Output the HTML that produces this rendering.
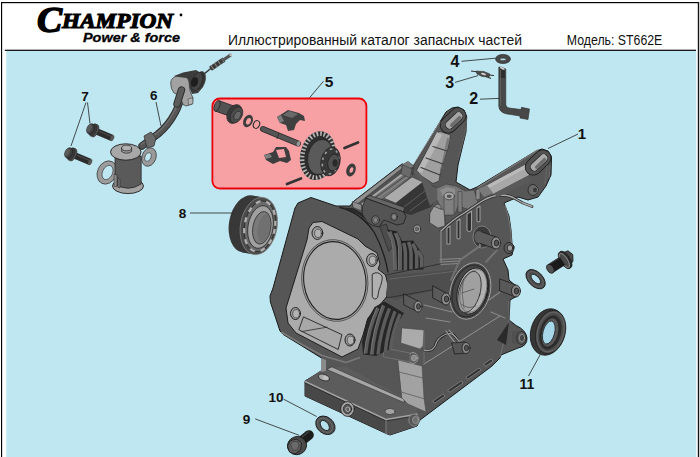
<!DOCTYPE html>
<html>
<head>
<meta charset="utf-8">
<style>
html,body{margin:0;padding:0;background:#fff;}
body{width:700px;height:457px;overflow:hidden;position:relative;font-family:"Liberation Sans",sans-serif;}
svg{position:absolute;left:0;top:0;display:block;}
text{font-family:"Liberation Sans",sans-serif;}
.num{font-weight:bold;fill:#111;}
.ld{stroke:#222;stroke-width:0.8;fill:none;}
</style>
</head>
<body>
<svg width="700" height="457" viewBox="0 0 700 457">
<!-- frame -->
<rect x="0" y="0" width="700" height="457" fill="#fff"/>
<rect x="6.3" y="51" width="690" height="407" fill="#bfe7f1"/>
<rect x="1" y="2" width="698" height="1.2" fill="#000"/>
<rect x="1" y="2" width="1.15" height="456" fill="#000"/>
<rect x="697.8" y="2" width="1.4" height="456" fill="#111"/>
<rect x="4.8" y="49.7" width="691.2" height="1.2" fill="#000"/>

<!-- header text -->
<text x="228" y="45.3" font-size="13.8" fill="#111" textLength="294" lengthAdjust="spacingAndGlyphs">Иллюстрированный каталог запасных частей</text>
<text x="566.8" y="45.3" font-size="13.8" fill="#111" textLength="95.5" lengthAdjust="spacingAndGlyphs">Модель: ST662E</text>

<!-- logo -->
<g id="logo">
<text x="37" y="31.5" style="font-family:'Liberation Serif',serif;font-style:italic;font-weight:bold;font-size:36px" fill="#000" stroke="#000" stroke-width="1.5" textLength="25" lengthAdjust="spacingAndGlyphs">C</text>
<text x="62" y="28" style="font-family:'Liberation Serif',serif;font-style:italic;font-weight:bold;font-size:22px" fill="#000" stroke="#000" stroke-width="1.2" textLength="111" lengthAdjust="spacingAndGlyphs">HAMPION</text>
<circle cx="181" cy="15" r="1.4" fill="#000"/>
<text x="83" y="42.3" style="font-family:'Liberation Sans',sans-serif;font-style:italic;font-weight:bold;font-size:13.6px" fill="#000" stroke="#000" stroke-width="0.3" textLength="97" lengthAdjust="spacingAndGlyphs">Power &amp; force</text>
</g>

<!-- PARTS -->
<!-- red box -->
<rect x="212.4" y="98.5" width="154" height="90" rx="7.5" ry="7.5" fill="#f7a1a5" stroke="#ee0008" stroke-width="1.8"/>

<!-- ENGINE -->
<g id="engine" stroke-linejoin="round">
<path id="sil" d="M298,203 L311,197.5 L336,206 L350,206 L354,201 L402,164 L412,168 L440.5,121 L446,112 L452,108 L458,107 L464,110 L466.5,116 L466,132 L458,165 L456,182 L470,190 L477,187 L536,151 L542,149 L548,151 L551.5,156.5 L551,175 L546,186 L538,197 L528,200 L518,197 L504,203 L509,216 L511,230 L512,244 L514,246 L512,255 L503,259 L508,270 L509,280 L517,287 L519,295 L510,300 L509,320 L516,325.5 Q526,330 527,338 Q527.5,346 518,348 L501,355 L500,358 L492,366 L420,420 L417,426 L390,435 L383,432 L305,396 L305,381 L323,370 L321.5,358 L302,346 L283.4,334.6 L280,331 L270.4,302 L270,296 L273,288 L295,208 Z" fill="#565656" stroke="#1a1a1a" stroke-width="1"/>
<path d="M281.500,332 L284.500,334 L302.500,344.800 L322,355.500 L346,362.500 L360,357.500" stroke="#7a7a7a" stroke-width="1.600" fill="none"/>
<!-- gasket face -->
<path d="M313,222.5 L322,221.5 L358,239 L365,246 L377,253 L380,264 L378,269 L385.5,275 L388,285 L386.5,297 L378,307 L368,318 L363,335 L358,349 L342,357 L296,333 L288,323 L286,308 L307,240 L309,228 Z" fill="#ababab" stroke="#1e1e1e" stroke-width="1"/>
<ellipse cx="334.8" cy="280.5" rx="33" ry="41" fill="#a4a4a4" stroke="#3a3a3a" stroke-width="0.7" transform="rotate(-8 334.8 280.5)"/><ellipse cx="334.8" cy="280.5" rx="31" ry="39" fill="#ababab" stroke="#222" stroke-width="1.1" transform="rotate(-8 334.8 280.5)"/>
</g>

<g id="engdet" stroke-linejoin="round" stroke-linecap="round">
<!-- left arm light channel -->
<path d="M437,133 L440,131.500 L450.500,135 L447.500,150 L441.500,166 L439,181 L433,183.500 L420,175 L417,170 Z" fill="#a0a0a0" stroke="#2a2a2a" stroke-width="0.600"/>
<path d="M437,132 L442,135 L422,173 L417,171 Z" fill="#b8b8b8"/>
<path d="M447,138 L450,139 L441,170 L438.500,179 Z" fill="#7a7a7a"/>
<path d="M433,146.500 L447,151 M426,158 L443,164 M421,167.500 L440,175" stroke="#3c3c3c" stroke-width="1.200" fill="none"/>
<!-- left arm slot -->
<path d="M448.300,125 L457.900,115.800" stroke="#1e1e1e" stroke-width="17" stroke-linecap="round"/>
<path d="M448.300,125 L457.900,115.800" stroke="#525252" stroke-width="15.400" stroke-linecap="round"/>
<path d="M449.600,124.850 L458.600,116.150" stroke="#1e1e1e" stroke-width="9" stroke-linecap="round"/>
<path d="M449.600,124.850 L458.600,116.150" stroke="#a6a6a6" stroke-width="7.600" stroke-linecap="round"/>
<path d="M451.800,125.200 L459.600,117.600" stroke="#6c6c6c" stroke-width="3.400" stroke-linecap="round"/>
<!-- right arm light channel -->
<path d="M486,186 L525,165 L529,175 L493,194 Z" fill="#a8a8a8"/>
<path d="M478,187.5 L538,150" stroke="#7a7a7a" stroke-width="1.2" fill="none"/>
<path d="M486,186 L525,165 L526,168 L488,188.5 Z" fill="#bababa"/>
<!-- right arm slot -->
<path d="M533.300,167.100 L542.900,157.900" stroke="#1e1e1e" stroke-width="17" stroke-linecap="round"/>
<path d="M533.300,167.100 L542.900,157.900" stroke="#525252" stroke-width="15.400" stroke-linecap="round"/>
<path d="M534.500,166.850 L543.500,158.150" stroke="#1e1e1e" stroke-width="9" stroke-linecap="round"/>
<path d="M534.500,166.850 L543.500,158.150" stroke="#ababab" stroke-width="7.600" stroke-linecap="round"/>
<path d="M536.700,167.200 L544.500,159.600" stroke="#6c6c6c" stroke-width="3.400" stroke-linecap="round"/>
<!-- right arm boss -->
<ellipse cx="533" cy="190" rx="5" ry="5.5" fill="#6a6a6a" stroke="#222" stroke-width="0.8"/>
<ellipse cx="535" cy="190" rx="2.6" ry="3" fill="#3a3a3a" stroke="#999" stroke-width="0.5"/>
<!-- top box -->
<path d="M353,202 L402.500,164 L405,166 L356,205 Z" fill="#8e8e8e" stroke="#2a2a2a" stroke-width="0.500"/>
<path d="M356,205 L405,166 L407,169 L359,207.500 Z" fill="#505050"/>
<path d="M359,207.500 L407,169 L413,174 L384,198 L366,206 Z" fill="#727272"/>
<path d="M362.500,204 L407.500,170.500" stroke="#a8a8a8" stroke-width="1.800" fill="none"/>
<path d="M366,204.500 L410,172.500" stroke="#3c3c3c" stroke-width="0.700" fill="none"/>
<path d="M371,203 L412,174" stroke="#8a8a8a" stroke-width="1" fill="none"/>
<path d="M384,198 L412,177 L423,182 L396,203 Z" fill="#ababab" stroke="#3a3a3a" stroke-width="0.600"/>
<path d="M396,203 L423,182 L436,187 L438,196 L431,207 L411,215 L400,212 Z" fill="#363636"/>
<path d="M404,207 L430,187 M410,211 L434,193" stroke="#6f6f6f" stroke-width="0.700" fill="none"/>
<path d="M401,165.500 L408,161.500 L414,166 L413,175 L406,172 Z" fill="#4a4a4a" stroke="#2a2a2a" stroke-width="0.500"/>
<path d="M401,165.500 L408,161.500 L414,166 L407,169.500 Z" fill="#767676"/>
<!-- rocker -->
<path d="M362.500,206.400 L365.800,198.200 L403.500,211.500 L406,216.500 L403.500,223.500 L397,225 L384,220 L379,227 L372.400,225.500 L362.500,219.500 Z" fill="#545454" stroke="#1e1e1e" stroke-width="0.800"/>
<path d="M365.800,197.700 L370,195.500 L404.700,207.400 L403.500,211.500 Z" fill="#666" stroke="#1e1e1e" stroke-width="0.600"/>
<ellipse cx="375.600" cy="220" rx="3.800" ry="4.200" fill="#707070" stroke="#1e1e1e" stroke-width="0.700"/>
<ellipse cx="375.600" cy="220" rx="2" ry="2.300" fill="#8a8a8a" stroke="#333" stroke-width="0.400"/>
<ellipse cx="394" cy="216.800" rx="3.200" ry="3.700" fill="#6a6a6a" stroke="#1e1e1e" stroke-width="0.700"/>
<ellipse cx="394" cy="216.800" rx="1.600" ry="1.900" fill="#8a8a8a"/>
<path d="M352.700,201.500 L361.400,204.800 L361.400,210.800 L353.200,207.500 Z" fill="#8c8c8c" stroke="#2a2a2a" stroke-width="0.500"/>
<!-- post -->
<path d="M444,196 L444,214 L454,214 L454,196 Z" fill="#888"/>
<ellipse cx="449" cy="196" rx="5" ry="3.6" fill="#a4a4a4" stroke="#333" stroke-width="0.6"/>
<ellipse cx="449" cy="196" rx="2.4" ry="1.7" fill="#555"/>
<!-- small bracket -->
<path d="M431,210 L436,207 L445,212 L445,224 L438,226 L431,221 Z" fill="#8e8e8e" stroke="#333" stroke-width="0.5"/>
</g>

<g id="engdet3" stroke-linejoin="round" stroke-linecap="round">
<!-- curved wall behind post -->
<path d="M437,188 L446,184 L456,186 L465,191 L474,190 L478,202 L470,210 L458,206 L455,214 L443,212 L437,200 Z" fill="#777" stroke="#3a3a3a" stroke-width="0.6"/>
<path d="M440,190 L447,187 L455,189 L455,196 L444,198 Z" fill="#8e8e8e"/>
<!-- re-draw post over wall -->
<path d="M444,196 L444,215 L454,215 L454,196 Z" fill="#808080" stroke="#333" stroke-width="0.5"/>
<ellipse cx="449.200" cy="196" rx="5.200" ry="3.800" fill="#a8a8a8" stroke="#333" stroke-width="0.7"/>
<ellipse cx="449.200" cy="196.200" rx="2.600" ry="1.800" fill="#555"/>
<!-- small posts -->
<path d="M458,192 L458,212 L462,212 L462,192 Z" fill="#7c7c7c" stroke="#333" stroke-width="0.500"/>
<path d="M476,190 L476,200 L480,199 L480,189 Z" fill="#8a8a8a" stroke="#333" stroke-width="0.500"/>
<!-- slot frames -->
<g fill="#2e2e2e" stroke="#9c9c9c" stroke-width="1.100">
<path d="M457,221 L457,238 Q458.500,240 460,238 L460,219 Z"/>
<path d="M467,214 L467,230 Q469,233 471.500,230 L471.500,211 Z"/>
<path d="M477,208 L477,221 Q478.500,223 480,221 L480,206 Z"/>
<path d="M447,228 L447,244 L450,244 L450,226 Z"/>
</g>
<!-- bracket -->
<path d="M430,213 L434,206 L444,210 L445,226 L438,228 L430,223 Z" fill="#9c9c9c" stroke="#333" stroke-width="0.600"/>
<path d="M434,206 L438,204 L441,206 L441,209 Z" fill="#8a8a8a" stroke="#333" stroke-width="0.500"/>
<!-- wire -->
<path d="M441,231 Q452,220 465,212.500 Q476,205 483,200.500 Q492,195.500 500,195 Q508,195 513,197.500 L523,203 L532,206.500" stroke="#2e2e2e" stroke-width="2.800" fill="none"/>
<path d="M441,231 Q452,220 465,212.500 Q476,205 483,200.500 Q492,195.500 500,195 Q508,195 513,197.500 L523,203 L532,206.500" stroke="#acacac" stroke-width="1.400" fill="none"/>
<path d="M441,231 L441,262" stroke="#888" stroke-width="1.200" fill="none"/>
<!-- left arm rim light lines -->
<path d="M414,164 L440,122" stroke="#8e8e8e" stroke-width="1" fill="none"/>
<path d="M467,117 L465,134 L458,160" stroke="#6a6a6a" stroke-width="0.800" fill="none"/>
<!-- right arm lower dark band highlight -->
<path d="M493,194 L528,176.500 L531,181 L498,197 Z" fill="#5a5a5a"/>
<path d="M478,189 L487,185 L493,193 L484,197 Z" fill="#7a7a7a"/>

<!-- right arm side ribs -->
<path d="M547,166 L545,184 M550,165 L549,178" stroke="#707070" stroke-width="0.700" fill="none"/>
<!-- block between arms top surface -->
<path d="M412,170 L418,172 L432,186 L437,188 L437,200 L430,206 L422,182 Z" fill="#5c5c5c"/>
<path d="M403,165 L412,169 L410,178 L401,174 Z" fill="#6a6a6a" stroke="#333" stroke-width="0.500"/>
<!-- big boss near right -->
<ellipse cx="482" cy="237" rx="9" ry="11" fill="#3a3a3a" stroke="#8a8a8a" stroke-width="0.800"/>
</g>

<g id="engdet2" stroke-linejoin="round" stroke-linecap="round">
<!-- base plate top face -->
<path d="M305,381 L323,369 L345,366 L404,398 L418,407 L417,414 L386,419 Z" fill="#5c5c5c"/>
<path d="M332,367 L404,399 L404,402.500 L327,369.500 Z" fill="#a6a6a6" stroke="#2a2a2a" stroke-width="0.500"/>
<path d="M305,382 L386,420 L386,434 L383,432 L305,396 Z" fill="#484848"/>
<path d="M386,420 L417,414.500 L417,426 L390,435 L386,434 Z" fill="#525252"/>
<path d="M305,381.500 L386,419.500 L417,414.300" stroke="#a2a2a2" stroke-width="1.500" fill="none"/>
<path d="M305,383 L386,421 L417,415.800" stroke="#1e1e1e" stroke-width="0.600" fill="none"/>
<path d="M386,420 L386,434" stroke="#8a8a8a" stroke-width="0.800" fill="none"/>
<ellipse cx="324" cy="377.500" rx="5.800" ry="3.200" fill="#a8a8a8" stroke="#222" stroke-width="0.700" transform="rotate(18 324 377.500)"/>
<ellipse cx="325.500" cy="378" rx="3" ry="1.800" fill="#c0c0c0" transform="rotate(18 325.500 378)"/>
<ellipse cx="390" cy="411.500" rx="5" ry="3" fill="#a2a2a2" stroke="#333" stroke-width="0.600"/>
<!-- front boss on base -->
<ellipse cx="347.5" cy="409" rx="6.8" ry="7.4" fill="#a6a6a6" stroke="#1e1e1e" stroke-width="0.8"/>
<ellipse cx="347.5" cy="409" rx="4.2" ry="4.700" fill="#5a5a5a" stroke="#1e1e1e" stroke-width="0.700"/><ellipse cx="347.800" cy="409.300" rx="2" ry="2.300" fill="none" stroke="#bdbdbd" stroke-width="0.800"/>
<!-- corner bolt -->
<ellipse cx="414" cy="420" rx="5.2" ry="6" fill="#555" stroke="#9a9a9a" stroke-width="0.7"/>
<ellipse cx="415.5" cy="420" rx="3" ry="3.6" fill="#6e6e6e" stroke="#bbb" stroke-width="0.5"/>
<!-- post under flange -->
<path d="M321,358 L326,360 L326,371 L321,372 Z" fill="#8a8a8a"/>
<!-- light column -->
<path d="M402,328 L424,330 L423,346 L420,349 L401,343 Z" fill="#ababab" stroke="#444" stroke-width="0.5"/>
<path d="M398,360 L422,366 L424,398 L426,412 L408,404 L402,398 Z" fill="#a2a2a2" stroke="#444" stroke-width="0.5"/>
<path d="M399,372 L423,378 M401,392 L425,399" stroke="#555" stroke-width="0.7" fill="none"/>
<!-- bolt -->
<ellipse cx="413" cy="358" rx="5" ry="5.5" fill="#5c5c5c" stroke="#aaa" stroke-width="0.7"/>
<ellipse cx="414" cy="358" rx="2.6" ry="3" fill="#8a8a8a" stroke="#ccc" stroke-width="0.4"/>
<path d="M384,348 L410,353 L410,362 L384,357 Z" fill="#555" stroke="#8a8a8a" stroke-width="0.5"/>
<path d="M424,350 Q432,352 435,346 Q437,338 446,334 Q453,332 457,339" stroke="#1e1e1e" stroke-width="2.600" fill="none"/><path d="M424,350 Q432,352 435,346 Q437,338 446,334 Q453,332 457,339" stroke="#9a9a9a" stroke-width="1.300" fill="none"/>
<path d="M446,331 L456,344 M449,330 L459,341" stroke="#9c9c9c" stroke-width="1.100" fill="none"/>
<!-- side cover parting line -->
<path d="M424,364 L500,316" stroke="#9a9a9a" stroke-width="0.9" fill="none"/>
<path d="M424,364 L424,330" stroke="#777" stroke-width="0.7" fill="none"/>
<!-- slots -->
<g fill="#333" stroke="#999" stroke-width="0.6">
<path d="M433,401 L443,394 L445,396 L435,403 Z"/>
<path d="M448,390 L461,381 L463,383 L450,392 Z"/>
<path d="M466,377 L479,368 L481,370 L468,379 Z"/>
<path d="M484,364 L491,359 L493,361 L486,366 Z"/>
</g>
<path d="M380,226 L386.500,224 L393,246 L389,251 Z" fill="#4c4c4c" stroke="#1e1e1e" stroke-width="0.600"/>
<ellipse cx="417" cy="229" rx="3.600" ry="4" fill="#a0a0a0" stroke="#1e1e1e" stroke-width="0.700"/><ellipse cx="417" cy="229" rx="1.800" ry="2.100" fill="#6a6a6a" stroke="#333" stroke-width="0.400"/>
<path d="M340,207.500 Q360,212 374,232 Q384,250 388,272" stroke="#1e1e1e" stroke-width="1.300" fill="none"/>
<path d="M340,207.500 L353,208 L362,213 L372,228 Q364,213 340,207.500 Z" fill="#2a2a2a"/>
<!-- upper fins -->
<g id="ufins">
<path d="M387.500,229.500 L397.500,231.500 L402,241 L413,240.500 L419,249 L423.500,256 L423.500,269.500 L393.500,270.500 L393,250 Z" fill="#222"/>
<g stroke="#5e5e5e" stroke-width="3.6" fill="none" stroke-linecap="butt">
<path d="M389.6,231.4 Q393.5,240 394.6,249.5 L395.4,270"/>
<path d="M396,233 Q399.5,240 400.2,248 L400.2,270"/>
<path d="M403.6,243 Q405.2,248 405.4,253 L405.4,270"/>
<path d="M408.5,242 Q410.6,247 411,253 L411,269.5"/>
<path d="M412.600,243.700 Q415.800,248 416.700,254.400 L416.700,269"/>
<path d="M417.500,251 Q420.500,254 421.600,257.700 L421.600,268"/>
</g>
<path d="M388,232 Q392,240 393,249.500 L393.800,270 M394.500,233.500 Q397.800,240 398.500,248 L398.500,270" stroke="#858585" stroke-width="0.600" fill="none"/>
</g>
<!-- lower fins -->
<g id="lfins">
<path d="M374.600,307 L384.500,301.500 L404,313 L399,321 L396,329.500 L390,349 L376,356 L363,354.500 L362,342.500 L366.500,321 Z" fill="#262626"/>
<g stroke="#5c5c5c" stroke-width="3.400" fill="none" stroke-linecap="butt">
<path d="M378,308 Q368,330 365.600,353.500"/>
<path d="M383.700,305.500 Q374,330 372,354.500"/>
<path d="M389.400,308.500 Q380,332 378,354.500"/>
<path d="M395,311.400 Q387,332 385.300,352"/>
<path d="M400,314 Q392.500,332 390.500,349"/>
</g>
<path d="M376.600,308 Q366.600,330 364.200,353.500 M382.300,305.500 Q372.600,330 370.600,354.500" stroke="#888" stroke-width="0.600" fill="none"/>
</g>
<!-- band between fins -->
<path d="M388,276 L468,268 L462,292 L444,296 L432,290 L396,300 L386,296 Z" fill="#4e4e4e"/>
<path d="M390,279 L466,270" stroke="#7a7a7a" stroke-width="0.6" stroke-dasharray="2 1" fill="none"/>
<g id="ribs" fill="none" stroke-linecap="round">
<path d="M440,259.500 L460,258.500 M440,262 L460,261 M441,264.500 L459,263.500" stroke="#8e8e8e" stroke-width="0.900"/>
<path d="M460,260 L480,246 M486,262 L497,250 M451,280 L459,262" stroke="#909090" stroke-width="1.600"/>
<path d="M460,260 L480,246 M486,262 L497,250 M451,280 L459,262" stroke="#3a3a3a" stroke-width="0.500"/>
<path d="M480,246 L479,234" stroke="#8a8a8a" stroke-width="1.400"/>
<path d="M424,305 L452,312 M426,318 L450,322" stroke="#8a8a8a" stroke-width="1.200"/>
<path d="M489,300 L500,292 M491,312 L505,318" stroke="#858585" stroke-width="1.200"/>
<path d="M441,262 L441,232" stroke="#777" stroke-width="1"/>
<path d="M386,275 L440,264" stroke="#2a2a2a" stroke-width="0.800"/>
<path d="M386,298 L432,290" stroke="#2a2a2a" stroke-width="0.800"/>
<!-- side cover outline light -->
<path d="M505,205 Q511,222 511.500,243" stroke="#8a8a8a" stroke-width="0.800"/>
<path d="M500,357 L509,321 L509,301" stroke="#777" stroke-width="0.800"/>
<path d="M497,340 L509,322 L506,345 Z" fill="#2a2a2a" stroke="none"/>
</g>

<!-- crank ring -->
<ellipse cx="470.300" cy="291" rx="19.800" ry="28.800" transform="rotate(16 470.300 291)" fill="#464646" stroke="#a6a6a6" stroke-width="0.900"/>
<ellipse cx="470.300" cy="291" rx="17.500" ry="26.500" transform="rotate(16 470.300 291)" fill="none" stroke="#1e1e1e" stroke-width="0.700"/>
<ellipse cx="472.300" cy="291" rx="14.600" ry="23.600" transform="rotate(16 472.300 291)" fill="#b2b2b2" stroke="#1e1e1e" stroke-width="0.900"/>
<ellipse cx="469.500" cy="292" rx="10.600" ry="21.200" transform="rotate(16 469.500 292)" fill="#a0a0a0" stroke="#2a2a2a" stroke-width="0.800"/><ellipse cx="473.300" cy="291" rx="12.600" ry="22" transform="rotate(16 473.300 291)" fill="none" stroke="#4a4a4a" stroke-width="0.500"/>
<path d="M462,293 L474,289 M461,304 Q468,310 476,306" stroke="#4a4a4a" stroke-width="0.700" fill="none"/>
<path d="M463,281 Q461,295 464,308" stroke="#555" stroke-width="0.700" fill="none"/>
<!-- bosses -->
<g stroke="#1e1e1e" stroke-width="0.800">
<path d="M479,231 L496,237 L496,249 L479,243 Z" fill="#5c5c5c"/>
<ellipse cx="479" cy="237" rx="4.500" ry="6" fill="#5c5c5c" stroke="none"/>
<ellipse cx="496" cy="243" rx="4.500" ry="6" fill="#8c8c8c"/>
<ellipse cx="496.500" cy="243" rx="2.200" ry="3" fill="#555"/>
<ellipse cx="509" cy="248" rx="5" ry="5.500" fill="#5a5a5a"/>
<ellipse cx="510" cy="248" rx="2.800" ry="3.200" fill="#9a9a9a"/>
<path d="M500,279 L516,285 L516,297 L500,291 Z" fill="#585858"/>
<ellipse cx="516" cy="291" rx="4.500" ry="6" fill="#868686"/>
<ellipse cx="516.500" cy="291" rx="2.200" ry="3" fill="#505050"/>
<path d="M433,286 L446,293 L446,305 L433,298 Z" fill="#5a5a5a"/>
<ellipse cx="446" cy="299" rx="4.500" ry="6" fill="#8a8a8a"/>
<ellipse cx="446.500" cy="299" rx="2.200" ry="3" fill="#555"/>
<path d="M404,294 L418,301 L418,312 L404,305 Z" fill="#5a5a5a"/>
<ellipse cx="418" cy="306.500" rx="4" ry="5.500" fill="#8e8e8e"/>
<ellipse cx="418.500" cy="306.500" rx="2" ry="2.800" fill="#555"/>
<path d="M452,343 L465,342 L468,353 L455,354 Z" fill="#565656"/>
<ellipse cx="466" cy="348" rx="4" ry="5.500" fill="#8a8a8a"/>
<ellipse cx="466.500" cy="348" rx="2" ry="2.800" fill="#555"/>
<path d="M512,331 L521,331.500 L521,344.500 L512,343 Z" fill="#505050" stroke="none"/><ellipse cx="521.500" cy="338" rx="4.600" ry="6.400" fill="#5e5e5e"/><ellipse cx="522" cy="338" rx="2.600" ry="3.600" fill="#444" stroke="#aaa" stroke-width="0.600"/>
</g>
<!-- flange small features -->
<ellipse cx="317.4" cy="233" rx="5.4" ry="6.4" fill="#a2a2a2" stroke="#1e1e1e" stroke-width="1"/><ellipse cx="318.0" cy="233.3" rx="3.4" ry="4.2" fill="#b2b2b2" stroke="#333" stroke-width="0.7"/>
<ellipse cx="372" cy="260" rx="5.4" ry="6.4" fill="#a2a2a2" stroke="#1e1e1e" stroke-width="1"/><ellipse cx="372.6" cy="260.3" rx="3.4" ry="4.2" fill="#b2b2b2" stroke="#333" stroke-width="0.7"/>
<ellipse cx="295.5" cy="313.5" rx="5" ry="6" fill="#a2a2a2" stroke="#1e1e1e" stroke-width="1"/><ellipse cx="296.1" cy="313.8" rx="3.4" ry="4.2" fill="#b2b2b2" stroke="#333" stroke-width="0.7"/>
<ellipse cx="350" cy="340" rx="5" ry="6" fill="#a2a2a2" stroke="#1e1e1e" stroke-width="1"/><ellipse cx="350.6" cy="340.3" rx="3.4" ry="4.2" fill="#b2b2b2" stroke="#333" stroke-width="0.7"/>
<path d="M303.8,317 L341.9,334.6 L338.2,349.5 L299.2,330 Z" fill="#a8a8a8" stroke="#222" stroke-width="0.9"/>
<path d="M302,331.5 L327,327.2" stroke="#2c2c2c" stroke-width="0.8"/>
<path d="M372.500,274 Q378,270.500 382,276 Q383,280 379,290 L377.500,297.500 Q374.500,301 372.500,297 Z" fill="#b0b0b0" stroke="#222" stroke-width="0.9"/>
</g>

<!-- BEARING 8 -->
<g id="bearing">
<ellipse cx="247.5" cy="224" rx="18.5" ry="29" transform="rotate(10 247.5 224)" fill="#383838"/>
<ellipse cx="250.5" cy="224.500" rx="18.500" ry="29" transform="rotate(10 250.500 224.500)" fill="#383838"/>
<ellipse cx="253.500" cy="225" rx="18.500" ry="29" transform="rotate(10 253.500 225)" fill="#383838"/>
<ellipse cx="256" cy="225.500" rx="18.500" ry="29" transform="rotate(10 256 225.500)" fill="#383838"/>
<ellipse cx="258.800" cy="226" rx="18.300" ry="29" transform="rotate(10 258.800 226)" fill="#4a4a4a" stroke="#8a8a8a" stroke-width="0.700"/>
<ellipse cx="259.800" cy="226.300" rx="15.200" ry="25.500" transform="rotate(10 259.800 226.300)" fill="#6a6a6a" stroke="#2a2a2a" stroke-width="0.800"/>
<ellipse cx="259.800" cy="226.300" rx="15.200" ry="25.500" transform="rotate(10 259.800 226.300)" fill="none" stroke="#b0b0b0" stroke-width="2.200" stroke-dasharray="5 6"/>
<ellipse cx="260.500" cy="227" rx="12.500" ry="21.500" transform="rotate(10 260.500 227)" fill="#a0a0a0" stroke="#2a2a2a" stroke-width="0.800"/>
<ellipse cx="261.800" cy="227.800" rx="9" ry="16.500" transform="rotate(10 261.800 227.800)" fill="#7a7a7a" stroke="#333" stroke-width="0.800"/>
<ellipse cx="264" cy="228" rx="6" ry="14" transform="rotate(10 264 228)" fill="#707070"/>
</g>
<!-- OIL SEAL 11 -->
<g id="seal">
<ellipse cx="547.800" cy="332" rx="17" ry="23.600" transform="rotate(15 547.800 332)" fill="#363636" stroke="#1a1a1a" stroke-width="0.800"/>
<ellipse cx="550.600" cy="332" rx="14.600" ry="22" transform="rotate(15 550.600 332)" fill="#4c4c4c" stroke="#1e1e1e" stroke-width="0.700"/>
<ellipse cx="550.600" cy="332" rx="13" ry="20.200" transform="rotate(15 550.600 332)" fill="none" stroke="#7a7a7a" stroke-width="0.500"/>
<ellipse cx="550.400" cy="332.400" rx="10.600" ry="17.600" transform="rotate(15 550.400 332.400)" fill="#2e2e2e"/>
<ellipse cx="550" cy="332.500" rx="8.400" ry="15" transform="rotate(15 550 332.500)" fill="#585858" stroke="#1a1a1a" stroke-width="0.600"/>
<ellipse cx="548.800" cy="332.500" rx="5.800" ry="11.800" transform="rotate(15 548.800 332.500)" fill="#a6d8ea" stroke="#1a1a1a" stroke-width="0.700"/>
</g>
<!-- right bolt + washer -->
<g id="rbolt">
<path d="M563.500,252.500 L568,250.800 L572.800,254.500 L573,261.500 L569.500,264.500 Z" fill="#484848" stroke="#1a1a1a" stroke-width="0.800"/>
<ellipse cx="565.600" cy="259.600" rx="4.300" ry="9.600" transform="rotate(-33 565.600 259.600)" fill="#3c3c3c" stroke="#1a1a1a" stroke-width="0.800"/>
<ellipse cx="564.600" cy="260.300" rx="4.300" ry="9.600" transform="rotate(-33 564.600 260.300)" fill="#4a4a4a" stroke="#1a1a1a" stroke-width="0.800"/>
<ellipse cx="564.300" cy="260.500" rx="3.200" ry="8" transform="rotate(-33 564.300 260.500)" fill="none" stroke="#9a9a9a" stroke-width="0.700"/>
<path d="M550.500,268.700 L562.500,261" stroke="#1a1a1a" stroke-width="9.800" stroke-linecap="butt"/>
<path d="M549.500,264 L560.500,257" stroke="#3c3c3c" stroke-width="1.200"/>
<ellipse cx="550.300" cy="268.800" rx="3.200" ry="4.900" transform="rotate(-33 550.300 268.800)" fill="#505050" stroke="#1a1a1a" stroke-width="0.700"/>
<ellipse cx="535.600" cy="279.200" rx="11.600" ry="7.200" transform="rotate(45 535.600 279.200)" fill="#4c4c4c" stroke="#1a1a1a" stroke-width="0.900"/>
<ellipse cx="535.600" cy="279.200" rx="9.400" ry="5.400" transform="rotate(45 535.600 279.200)" fill="none" stroke="#777" stroke-width="0.500"/>
<ellipse cx="535.800" cy="279" rx="6" ry="3" transform="rotate(45 535.800 279)" fill="#b5e0ee" stroke="#1a1a1a" stroke-width="0.800"/>
</g>
<!-- bolt 9 + washer 10 -->
<g id="b9">
<path d="M299,443 L309,435" stroke="#1c1c1c" stroke-width="9.600" stroke-linecap="round"/>
<path d="M301,438 L309,431.500" stroke="#444" stroke-width="1.200"/>
<ellipse cx="297" cy="445.600" rx="9.600" ry="9" transform="rotate(-20 297 445.600)" fill="#4a4a4a" stroke="#1a1a1a" stroke-width="0.900"/>
<path d="M287.500,446 L290.500,440.500 L297,439 L301.500,443 L300.500,450 L295,454 L289.500,452 Z" fill="#5c5c5c" stroke="#1a1a1a" stroke-width="0.800"/>
<path d="M290.500,444.500 L293,441.500 L297.500,441.500 L299,445 L297.500,449.500 L293,450.500 Z" fill="#6a6a6a" stroke="#2a2a2a" stroke-width="0.500"/>
<ellipse cx="325.400" cy="425.300" rx="10.600" ry="8.200" transform="rotate(40 325.400 425.300)" fill="#505050" stroke="#1a1a1a" stroke-width="0.900"/>
<ellipse cx="325" cy="425.300" rx="8.400" ry="6" transform="rotate(40 325 425.300)" fill="none" stroke="#777" stroke-width="0.600"/>
<ellipse cx="324.800" cy="425.500" rx="5.800" ry="3.600" transform="rotate(52 324.800 425.500)" fill="#b5e0ee" stroke="#1a1a1a" stroke-width="0.800"/>
</g>
<!-- bolts 7 -->
<g id="b7"><polygon points="95.1,127.3 113.5,135.1 111.0,141.0 92.6,133.2" fill="#2c2c2c"/><path d="M94.3,129.2 L112.7,137.0" stroke="#4a4a4a" stroke-width="1.2"/><ellipse cx="112.2" cy="138.1" rx="1.8" ry="3.2" transform="rotate(23 112.2 138.1)" fill="#555"/><ellipse cx="94.9" cy="130.7" rx="3.4" ry="6.6" transform="rotate(23 94.9 130.7)" fill="#555" stroke="#222" stroke-width="0.5"/><ellipse cx="93.1" cy="130.0" rx="3.4" ry="6.6" transform="rotate(23 93.1 130.0)" fill="#3a3a3a" stroke="#222" stroke-width="0.5"/><ellipse cx="90.6" cy="128.9" rx="3.6" ry="5.4" transform="rotate(23 90.6 128.9)" fill="#404040" stroke="#1e1e1e" stroke-width="0.6"/><ellipse cx="89.3" cy="128.3" rx="2.2" ry="4" transform="rotate(23 89.3 128.3)" fill="#5a5a5a"/><polygon points="73.1,151.3 91.5,159.1 89.0,165.0 70.6,157.2" fill="#2c2c2c"/><path d="M72.3,153.2 L90.7,161.0" stroke="#4a4a4a" stroke-width="1.2"/><ellipse cx="90.2" cy="162.1" rx="1.8" ry="3.2" transform="rotate(23 90.2 162.1)" fill="#555"/><ellipse cx="72.9" cy="154.7" rx="3.4" ry="6.6" transform="rotate(23 72.9 154.7)" fill="#555" stroke="#222" stroke-width="0.5"/><ellipse cx="71.1" cy="154.0" rx="3.4" ry="6.6" transform="rotate(23 71.1 154.0)" fill="#3a3a3a" stroke="#222" stroke-width="0.5"/><ellipse cx="68.6" cy="152.9" rx="3.6" ry="5.4" transform="rotate(23 68.6 152.9)" fill="#404040" stroke="#1e1e1e" stroke-width="0.6"/><ellipse cx="67.3" cy="152.3" rx="2.2" ry="4" transform="rotate(23 67.3 152.3)" fill="#5a5a5a"/></g>
<!-- sensor 6 -->
<g id="sensor">
<!-- pipe -->
<path d="M183,90 Q180,104 175,113 Q168,126 158,134 L142,146" stroke="#2e2e2e" stroke-width="7.4" fill="none" stroke-linecap="round"/>
<path d="M183,90 Q180,104 175,113 Q168,126 158,134 L142,146" stroke="#555" stroke-width="5.4" fill="none" stroke-linecap="round"/>
<path d="M181.5,90 Q178.5,104 173.5,112.5 Q167,125 157,133 L141,144.5" stroke="#6e6e6e" stroke-width="1.4" fill="none"/>
<!-- top fitting -->
<path d="M174,76 L183,72.500 L196,70 L201,73 L204,79 L203,87 L198,93 L192,94 L186,80 Z" fill="#3c3c3c"/>
<ellipse cx="199.500" cy="81" rx="5.500" ry="10" transform="rotate(20 199.500 81)" fill="#333" stroke="#555" stroke-width="0.600"/>
<ellipse cx="197" cy="81.500" rx="5" ry="9.500" transform="rotate(20 197 81.500)" fill="#444" stroke="#222" stroke-width="0.500"/>
<ellipse cx="194.500" cy="82" rx="3.400" ry="5" transform="rotate(20 194.500 82)" fill="#1e1e1e"/>
<path d="M170.700,83 Q171,78 176,76.300 L186,77.500 Q188.500,78 189,82 L190,91 L193,98 L192.500,104 L186,106 L183,104.500 L180,96 L174,93 Q170.500,89 170.700,83 Z" fill="#a2a2a2" stroke="#333" stroke-width="0.700"/>
<path d="M188,99 L192.600,97.800 L193,103.500 L188.500,105.200 Z" fill="#b5b5b5" stroke="#333" stroke-width="0.500"/>
<!-- pipe end cap over plate -->
<path d="M181.500,90 L177,104" stroke="#2e2e2e" stroke-width="7.400" stroke-linecap="round"/>
<path d="M181.500,90 L177,104" stroke="#5a5a5a" stroke-width="5.600" stroke-linecap="round"/>
<path d="M204,74 L212,67.500" stroke="#3a3a3a" stroke-width="1.600"/>
<path d="M210.500,68.800 L224,59.500" stroke="#3c3c3c" stroke-width="5" stroke-linecap="butt"/>
<path d="M212,67.800 L224,59.500" stroke="#8a8a8a" stroke-width="5" stroke-dasharray="1 3.200" stroke-linecap="butt"/>
<path d="M224,59.500 L230.500,55.200" stroke="#555" stroke-width="3.200" stroke-linecap="round"/>
<circle cx="230.800" cy="55" r="1.300" fill="#c8c8c8"/>
<!-- nut -->
<path d="M144,136 L151,132 L156,138 L154,146 L147,148 Z" fill="#6a6a6a" stroke="#2a2a2a" stroke-width="0.7"/>
<!-- ears -->
<ellipse cx="149" cy="157" rx="7" ry="9.5" transform="rotate(20 149 157)" fill="#9a9a9a" stroke="#333" stroke-width="0.7"/>
<ellipse cx="148" cy="157" rx="3" ry="4.5" transform="rotate(20 148 157)" fill="#bfe7f1" stroke="#333" stroke-width="0.6"/>
<ellipse cx="107" cy="172.5" rx="9.5" ry="12" transform="rotate(25 107 172.5)" fill="#9c9c9c" stroke="#333" stroke-width="0.7"/>
<ellipse cx="107.5" cy="172.5" rx="5" ry="7.5" transform="rotate(25 107.5 172.5)" fill="#bfe7f1" stroke="#333" stroke-width="0.6"/>
<!-- body -->
<ellipse cx="128" cy="186" rx="15.500" ry="7.600" fill="#a2a2a2" stroke="#1e1e1e" stroke-width="0.900"/>
<path d="M115,156 L115,184 Q128,192.500 141.200,184 L141.200,156 Z" fill="#5a5a5a" stroke="#1e1e1e" stroke-width="0.700"/>
<ellipse cx="125.800" cy="152" rx="15.300" ry="8.200" fill="#a8a8a8" stroke="#1e1e1e" stroke-width="0.900"/>
<path d="M121.600,148 L121.600,151.500 Q126.600,155 131.600,151.500 L131.600,148 Z" fill="#9a9a9a" stroke="#1e1e1e" stroke-width="0.700"/>
<ellipse cx="126.600" cy="148" rx="5" ry="2.800" fill="#b0b0b0" stroke="#1e1e1e" stroke-width="0.700"/>
<path d="M114,174 L117,175 L117,187 L114,186 Z" fill="#8a8a8a" stroke="#1a1a1a" stroke-width="0.500"/>
<path d="M118,178 L120,179 L120,188 L118,187.500 Z" fill="#777" stroke="#1a1a1a" stroke-width="0.400"/>
</g>
<!-- parts 2,3,4 -->
<g id="p234">
<ellipse cx="503" cy="59" rx="7.500" ry="4.600" fill="#484848" stroke="#222" stroke-width="0.6"/>
<ellipse cx="503" cy="59.4" rx="3" ry="1.3" fill="#b5d6de" stroke="#222" stroke-width="0.5"/>
<path d="M471,71 L478,72 M488,75 L494,75.5 M485,76 L491,78.5" stroke="#333" stroke-width="1.2" fill="none"/><path d="M476,71 L484,71.5 L490,74 L489,77 L482,76.5 L477,74 Z" fill="#4a4a4a" stroke="#2a2a2a" stroke-width="0.5"/><ellipse cx="483.5" cy="74" rx="2.6" ry="1.1" transform="rotate(15 483.5 74)" fill="#c9c9c9"/>
<path d="M498.8,67 Q501,66.5 505.8,69 L505.8,104.5 Q506,107.5 509,108 L521,109.5 L521.5,107.3 L529.5,109 L528,119.5 L520,118 L520,116 L506,113.8 Q499,112 498.8,106 Z" fill="#484848" stroke="#2a2a2a" stroke-width="0.6"/><path d="M499.5,68 L505,70.5 L505,78 L499.5,78 Z" fill="#2e2e2e"/><ellipse cx="502.3" cy="68.3" rx="2.6" ry="1" transform="rotate(25 502.3 68.3)" fill="#cfcfcf"/>
<path d="M500.5,70 L500.5,106" stroke="#666" stroke-width="0.8"/>
</g>
<!-- red box contents -->
<g id="redparts">
<path d="M219,100.700 L235,106.400 L231.100,116.700 L215.100,111 Z" fill="#525252" stroke="#1e1e1e" stroke-width="0.800"/>
<ellipse cx="217" cy="105.900" rx="2.600" ry="5.600" transform="rotate(21 217 105.900)" fill="#5e5e5e" stroke="#1e1e1e" stroke-width="0.700"/>
<ellipse cx="234.5" cy="114" rx="7" ry="10" transform="rotate(28 234.5 114)" fill="#3a3a3a" stroke="#2a2a2a" stroke-width="0.6"/>
<ellipse cx="236.5" cy="115" rx="5.6" ry="8.6" transform="rotate(28 236.5 115)" fill="#4a4a4a" stroke="#222" stroke-width="0.5"/>
<ellipse cx="237.5" cy="115.5" rx="3" ry="4.6" transform="rotate(28 237.5 115.5)" fill="#666" stroke="#222" stroke-width="0.5"/>
<ellipse cx="248" cy="121" rx="4.600" ry="6.600" transform="rotate(25 248 121)" fill="#3e3e3e"/>
<ellipse cx="248.500" cy="121.300" rx="2.200" ry="3.400" transform="rotate(25 248.500 121.300)" fill="#f7a1a5"/>
<ellipse cx="256.500" cy="124.500" rx="3" ry="4" transform="rotate(25 256.500 124.500)" fill="none" stroke="#2e2e2e" stroke-width="1.100"/>
<path d="M263,129 L298,143.500" stroke="#2c2c2c" stroke-width="6" stroke-linecap="round"/>
<path d="M263,129 L298,143.500" stroke="#555" stroke-width="4.200" stroke-linecap="round"/>
<path d="M279,133 L277,139" stroke="#2a2a2a" stroke-width="0.800"/>
<ellipse cx="298.500" cy="143.700" rx="1.700" ry="2.600" transform="rotate(25 298.500 143.700)" fill="#999"/>
<!-- upper bracket -->
<path d="M277,117 L288,110 L299,113 L304,116 L305,121 L300,120 L296,124 L294,130 L288,131 L286,125 L280,123 Z" fill="#404040"/>
<path d="M283,115 L289,111 L298,114 L292,118 Z" fill="#6a6a6a"/>
<path d="M277,117 L280,123 L284,121 L281,115 Z" fill="#7a7a7a"/>
<!-- lower bracket -->
<path d="M264,155 L273,152 L276,147 L286,147 L289,151 L291,160 L287,163 L280,161 L273,164 L266,160 Z" fill="#3e3e3e"/>
<path d="M276,150 L284,149 L286,157 L279,158 Z" fill="#f7a1a5"/>
<path d="M264,155 L270,154 L272,157 L266,159 Z" fill="#808080"/>
<!-- gear -->
<ellipse cx="317.800" cy="155.600" rx="17.600" ry="24.600" transform="rotate(12 317.800 155.600)" fill="#2e2e2e"/>
<ellipse cx="317.800" cy="155.600" rx="15.400" ry="22.200" transform="rotate(12 317.800 155.600)" fill="none" stroke="#b4b4b4" stroke-width="4.600" stroke-dasharray="1.700 1.900"/>
<ellipse cx="319" cy="156.200" rx="13.400" ry="19.600" transform="rotate(12 319 156.200)" fill="#2e2e2e"/>
<ellipse cx="320.200" cy="157" rx="12.400" ry="17.800" transform="rotate(12 320.200 157)" fill="#5a5a5a" stroke="#1e1e1e" stroke-width="0.700"/>
<ellipse cx="330.500" cy="161.500" rx="9.600" ry="14.600" transform="rotate(12 330.500 161.500)" fill="#383838" stroke="#1e1e1e" stroke-width="0.600"/>
<ellipse cx="330.500" cy="161.500" rx="8" ry="12.600" transform="rotate(12 330.500 161.500)" fill="none" stroke="#a0a0a0" stroke-width="1.600" stroke-dasharray="2.500 4"/>
<ellipse cx="333.500" cy="162.500" rx="5.600" ry="8.400" transform="rotate(12 333.500 162.500)" fill="#505050" stroke="#1e1e1e" stroke-width="0.600"/>
<ellipse cx="335" cy="163" rx="2.600" ry="3.800" fill="#2a2a2a"/>
<!-- pins -->
<path d="M344.500,148 L358,142.500" stroke="#333" stroke-width="2.800" stroke-linecap="round"/>
<path d="M287,184 L301,178.500" stroke="#333" stroke-width="2.800" stroke-linecap="round"/>
<ellipse cx="351" cy="170" rx="4.600" ry="6.600" transform="rotate(20 351 170)" fill="#3c3c3c"/>
<ellipse cx="351.500" cy="170" rx="1.800" ry="2.800" transform="rotate(20 351.500 170)" fill="#f7a1a5"/>
</g>

<g id="leaders" class="ld">
<path d="M548,148.500 L578,134"/>
<path d="M480,99.200 L499,98.400"/>
<path d="M455,82.400 L478,75.600"/>
<path d="M461.5,61.3 L495.5,58.2"/>
<path d="M309.5,97.8 L323.5,81.2"/>
<path d="M156,102 L161,126"/>
<path d="M87.500,102.500 L90,123.500"/>
<path d="M86,102.500 L71,146"/>
<path d="M190,213 L233.500,213"/>
<path d="M255.2,418.9 L299.3,435.4"/>
<path d="M283.6,399.2 L316.7,416.5"/>
<path d="M540,355 L528.500,376"/>
</g>
<g id="labels" class="num" text-anchor="middle">
<text x="582" y="139.3" font-size="15">1</text>
<text x="473.6" y="104.3" font-size="16">2</text>
<text x="449.6" y="88" font-size="16">3</text>
<text x="455" y="66.5" font-size="16">4</text>
<text x="329" y="86.6" font-size="15.5">5</text>
<text x="153.8" y="100.4" font-size="13.5">6</text>
<text x="85" y="100.9" font-size="13.5">7</text>
<text x="182.5" y="217.9" font-size="13.5">8</text>
<text x="246.5" y="423.6" font-size="13.5">9</text>
<text x="276" y="402.4" font-size="13.5">10</text>
<text x="526.8" y="389" font-size="14">11</text>
</g>

<!-- PARTS6 -->
</svg>
</body>
</html>
